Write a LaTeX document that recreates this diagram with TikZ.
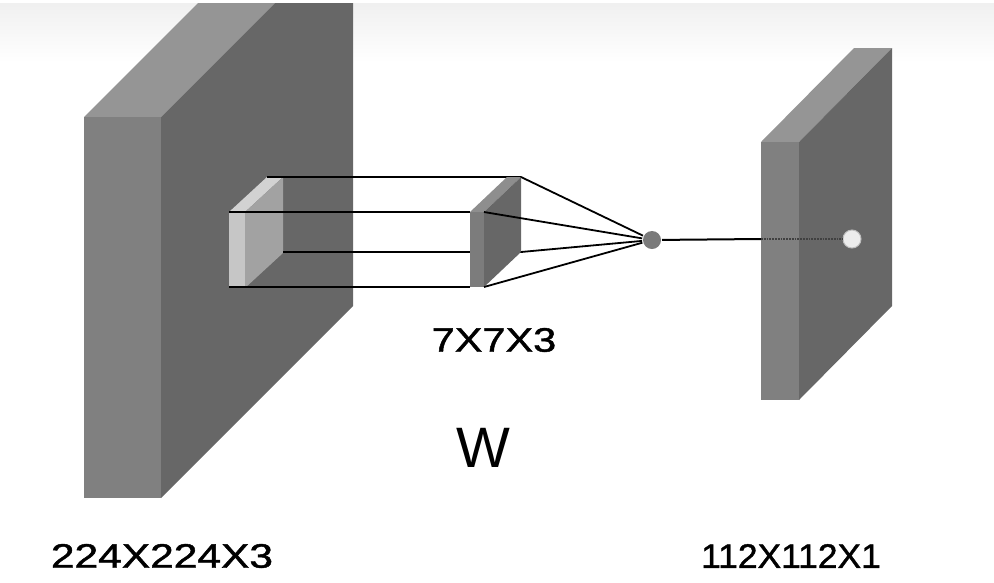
\documentclass[tikz,border=0pt]{standalone}
\usepackage{graphicx}
\usepackage{fontspec}
\setmainfont{Liberation Sans}
\newfontfamily\dimfont{Liberation Sans}[FakeBold=1.2]
\definecolor{slabfront}{HTML}{808080}
\definecolor{slabtop}{HTML}{959595}
\definecolor{slabside}{HTML}{676767}
\definecolor{patchfront}{HTML}{C6C6C6}
\definecolor{patchtop}{HTML}{D2D2D2}
\definecolor{patchside}{HTML}{A2A2A2}
\definecolor{kernfront}{HTML}{7C7C7C}
\definecolor{kerntop}{HTML}{8E8E8E}

\begin{document}
\begin{tikzpicture}[x=1pt,y=-1pt,line width=2pt,
  neuron/.style={circle,fill=slabfront!95!black,minimum size=18pt,inner sep=0pt},
  pixel/.style={circle,fill=white!93!black,draw=white!75!black,line width=1pt,minimum size=18pt,inner sep=0pt},
  dims/.style={font=\dimfont\fontsize{34}{40}\selectfont,inner sep=0pt}]
\useasboundingbox (0,0) rectangle (994,582);
% top band
\shade[top color=black!6,bottom color=white] (0,3) rectangle (994,62);
% input volume
\scope
\clip (0,3) rectangle (994,582);
\fill[slabtop] (84,117) -- (276,-75) -- (353,-75) -- (161,117) -- cycle;
\fill[slabfront] (84,117) rectangle (161,498);
\fill[slabside] (161,117) -- (353,-75) -- (353,306) -- (161,498) -- cycle;
\endscope
% receptive field
\fill[patchtop] (229,212) -- (267,177) -- (283,177) -- (245,212) -- cycle;
\fill[patchfront] (229,212) rectangle (245,288);
\fill[patchside] (245,212) -- (283,177) -- (283,253) -- (245,288) -- cycle;
\coordinate (p-btl) at (267,177);
\coordinate (p-ftl) at (229,212);
\coordinate (p-bbr) at (283,252);
\coordinate (p-fbl) at (229,287);
% kernel corners
\coordinate (k-btr) at (521,177);
\coordinate (k-ftl) at (470,212);
\coordinate (k-ftr) at (484,212);
\coordinate (k-bbr) at (521,252);
\coordinate (k-fbl) at (470,287);
\coordinate (k-fbr) at (484,287);
\draw (p-btl) -- (k-btr) (p-ftl) -- (k-ftl)
      (p-bbr) -- (k-bbr) (p-fbl) -- (k-fbl);
% kernel
\fill[kerntop] (k-ftl) -- (507,177) -- (k-btr) -- (k-ftr) -- cycle;
\fill[kernfront] (k-ftl) rectangle (k-fbr);
\fill[slabside] (k-ftr) -- (k-btr) -- (k-bbr) -- (k-fbr) -- cycle;
% weighted sum
\node[neuron] (sum) at (652,240) {};
\foreach \c in {k-btr,k-ftr,k-bbr,k-fbr}
  \draw[line width=1.8pt] (\c) -- (sum);
% output volume
\fill[slabtop] (761,142) -- (854,48) -- (892,48) -- (799,142) -- cycle;
\fill[slabfront] (761,142) rectangle (799,400);
\fill[slabside] (799,142) -- (892,48) -- (892,306) -- (799,400) -- cycle;
\coordinate (entry) at (761,239);
\node[pixel] (px) at (852,239) {};
\draw (sum) -- (entry);
\draw[densely dotted,black!75,line width=1.8pt] (entry) -- (px);
% labels
\node[dims] (kdim) at (494,340) {\scalebox{1.22}[1]{7X7X3}};
\node[font=\fontsize{57}{60}\selectfont,inner sep=0pt] (wlbl) at (483,448) {W};
\node[dims] (indim) at (162,556) {\scalebox{1.25}[1]{224X224X3}};
\node[dims] (outdim) at (791,556) {\scalebox{1.04}[1]{112X112X1}};
\end{tikzpicture}
\end{document}
